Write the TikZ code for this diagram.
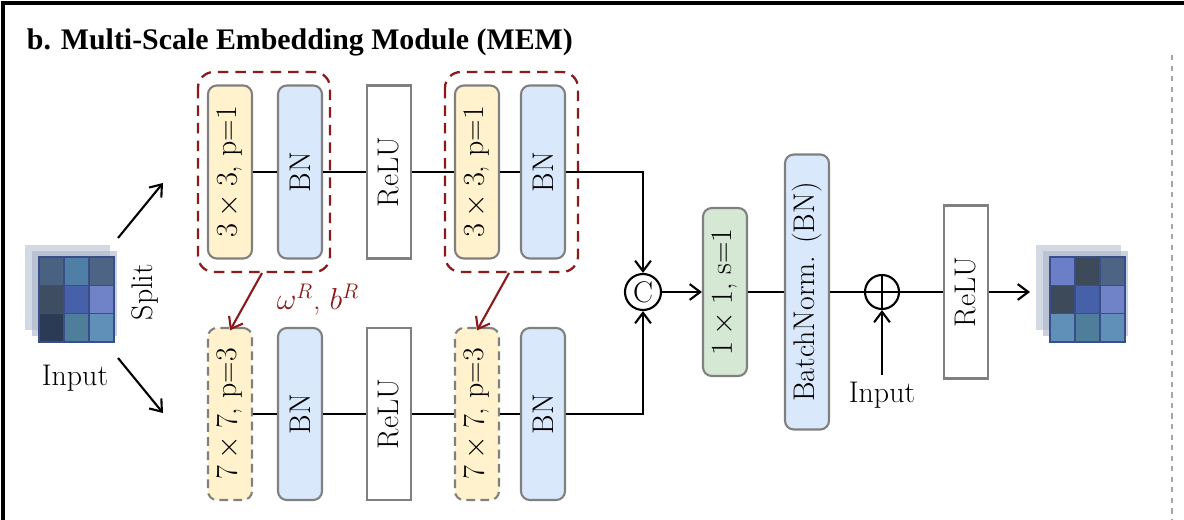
\documentclass[tikz,border=0pt]{standalone}
\usepackage{amsmath}
\usepackage{fontspec}
\newfontfamily\ttlfont{Liberation Serif}
\usetikzlibrary{positioning,arrows.meta,calc}
\definecolor{convY}{HTML}{FFF2CC}
\definecolor{bnB}{HTML}{DAE8FC}
\definecolor{oneG}{HTML}{D5E8D4}
\definecolor{darkR}{HTML}{8B1A1A}
\definecolor{frameG}{HTML}{808080}
\definecolor{gA}{HTML}{4A6282}\definecolor{gB}{HTML}{4F7EA6}\definecolor{gC}{HTML}{4D6484}
\definecolor{gD}{HTML}{3E4D62}\definecolor{gE}{HTML}{4760AA}\definecolor{gF}{HTML}{7082C8}
\definecolor{gG}{HTML}{2C3B55}\definecolor{gH}{HTML}{4E7E9A}\definecolor{gI}{HTML}{6090B8}
\definecolor{gJ}{HTML}{6B7FC8}\definecolor{gK}{HTML}{3D4A5A}
\definecolor{back}{HTML}{A8B4C8}
\tikzset{
  blk/.style={draw=frameG,line width=1.2pt,minimum width=44*0.02cm,inner sep=0pt,font=\fontsize{17}{20}\selectfont},
  conv/.style={blk,fill=convY,rounded corners=5pt},
  bn/.style={blk,fill=bnB,rounded corners=5pt},
  relu/.style={blk,fill=white},
  grp/.style={draw=darkR,dashed,line width=1.3pt,dash pattern=on 6pt off 4pt,rounded corners=9pt},
  arr/.style={-{Straight Barb[length=6pt,width=9pt]},line width=1.2pt},
  rarr/.style={arr,draw=darkR},
  op/.style={circle,draw,line width=1.2pt,minimum size=36*0.02cm,inner sep=0pt,font=\fontsize{17}{20}\selectfont},
  lbl/.style={font=\fontsize{17}{20}\selectfont}
}
\begin{document}
\begin{tikzpicture}[x=0.02cm,y=-0.02cm,line width=1.2pt]
\useasboundingbox (0,0) rectangle (1184,520);
\draw[line width=2pt] (3,522) -- (3,3) -- (1186,3);
\draw[frameG!70,dashed,line width=1.5pt] (1172,55) -- (1172,520);
\node[anchor=west,font=\fontsize{17}{22}\selectfont\ttlfont\bfseries] (title) at (20,42) {b. Multi-Scale Embedding Module (MEM)};

% input and output grids
\foreach \gx/\gy/\cs/\nm in {39/257/{gA,gB,gC,gD,gE,gF,gG,gH,gI}/in, 1050/257/{gJ,gK,gC,gK,gE,gF,gI,gH,gI}/out} {
  \fill[back,opacity=0.5] (\gx-14,\gy-12) rectangle ++(85,85);
  \fill[back,opacity=0.6] (\gx-7,\gy-6) rectangle ++(85,85);
  \foreach \c [count=\i from 0] in \cs {
    \pgfmathtruncatemacro\col{mod(\i,3)}
    \pgfmathtruncatemacro\row{div(\i,3)}
    \fill[\c,draw=gE!80!black,line width=0.8pt] (\gx+\col*25,\gy+\row*28.3) rectangle ++(25,28.3);
  }
  \draw[gE!80!black,line width=1.2pt] (\gx,\gy) rectangle ++(75,85);
  \coordinate (\nm) at (\gx+37,\gy+42);
}
\node[lbl] (intxt) at (75,378) {Input};
\node[lbl,rotate=90] (split) at (145,292) {Split};
\coordinate (sa) at (118,238); \coordinate (sb) at (163,183);
\coordinate (sc) at (118,358); \coordinate (sd) at (163,413);
\draw[arr] (sa) -- (sb);
\draw[arr] (sc) -- (sd);

% top branch
\node[conv,minimum height=173*0.02cm] (c3a) at (230,172) {\rotatebox{90}{$3\times3$, p=1}};
\node[bn,minimum height=173*0.02cm] (bn1) at (300,172) {\rotatebox{90}{BN}};
\node[relu,minimum height=173*0.02cm] (re1) at (389,172) {\rotatebox{90}{ReLU}};
\node[conv,minimum height=173*0.02cm] (c3b) at (477,172) {\rotatebox{90}{$3\times3$, p=1}};
\node[bn,minimum height=173*0.02cm] (bn2) at (543,172) {\rotatebox{90}{BN}};
\draw (c3a) -- (bn1) -- (re1) -- (c3b) -- (bn2);

% bottom branch
\node[conv,dashed,dash pattern=on 5pt off 3pt,minimum height=172*0.02cm] (c7a) at (230,414) {\rotatebox{90}{$7\times7$, p=3}};
\node[bn,minimum height=172*0.02cm] (bn3) at (300,414) {\rotatebox{90}{BN}};
\node[relu,minimum height=172*0.02cm] (re2) at (389,414) {\rotatebox{90}{ReLU}};
\node[conv,dashed,dash pattern=on 5pt off 3pt,minimum height=172*0.02cm] (c7b) at (477,414) {\rotatebox{90}{$7\times7$, p=3}};
\node[bn,minimum height=172*0.02cm] (bn4) at (543,414) {\rotatebox{90}{BN}};
\draw (c7a) -- (bn3) -- (re2) -- (c7b) -- (bn4);

% reparam groups
\draw[grp] (198,72) rectangle (330,272);
\draw[grp] (445,72) rectangle (578,272);
\coordinate (ga) at (262,273);
\coordinate (gb) at (509,273);
\draw[rarr] (ga) -- ([yshift=-2pt]c7a.north);
\draw[rarr] (gb) -- ([yshift=-2pt]c7b.north);
\node[lbl,text=darkR] (wb) at (318,300) {$\omega^R$, $b^R$};

% fusion
\node[op] (cat) at (643,292) {C};
\draw[arr] (bn2) -| (cat);
\draw[arr] (bn4) -| (cat);
\node[blk,fill=oneG,rounded corners=5pt,minimum height=168*0.02cm] (c1) at (725,292) {\rotatebox{90}{$1\times1$, s=1}};
\node[bn,minimum height=275*0.02cm] (bnn) at (807,292) {\rotatebox{90}{BatchNorm. (BN)}};
\node[op,minimum size=34*0.02cm] (add) at (882,292) {};
\draw (add.north) -- (add.south) (add.west) -- (add.east);
\node[lbl] (in2) at (882,395) {Input};
\node[relu,minimum height=173*0.02cm] (re3) at (966,292) {\rotatebox{90}{ReLU}};
\draw[arr] (cat) -- (c1);
\draw (c1) -- (bnn) -- (add) -- (re3);
\draw[arr] (in2) -- (add);
\coordinate (outl) at (1030,292);
\draw[arr] (re3) -- (outl);
\end{tikzpicture}
\end{document}
